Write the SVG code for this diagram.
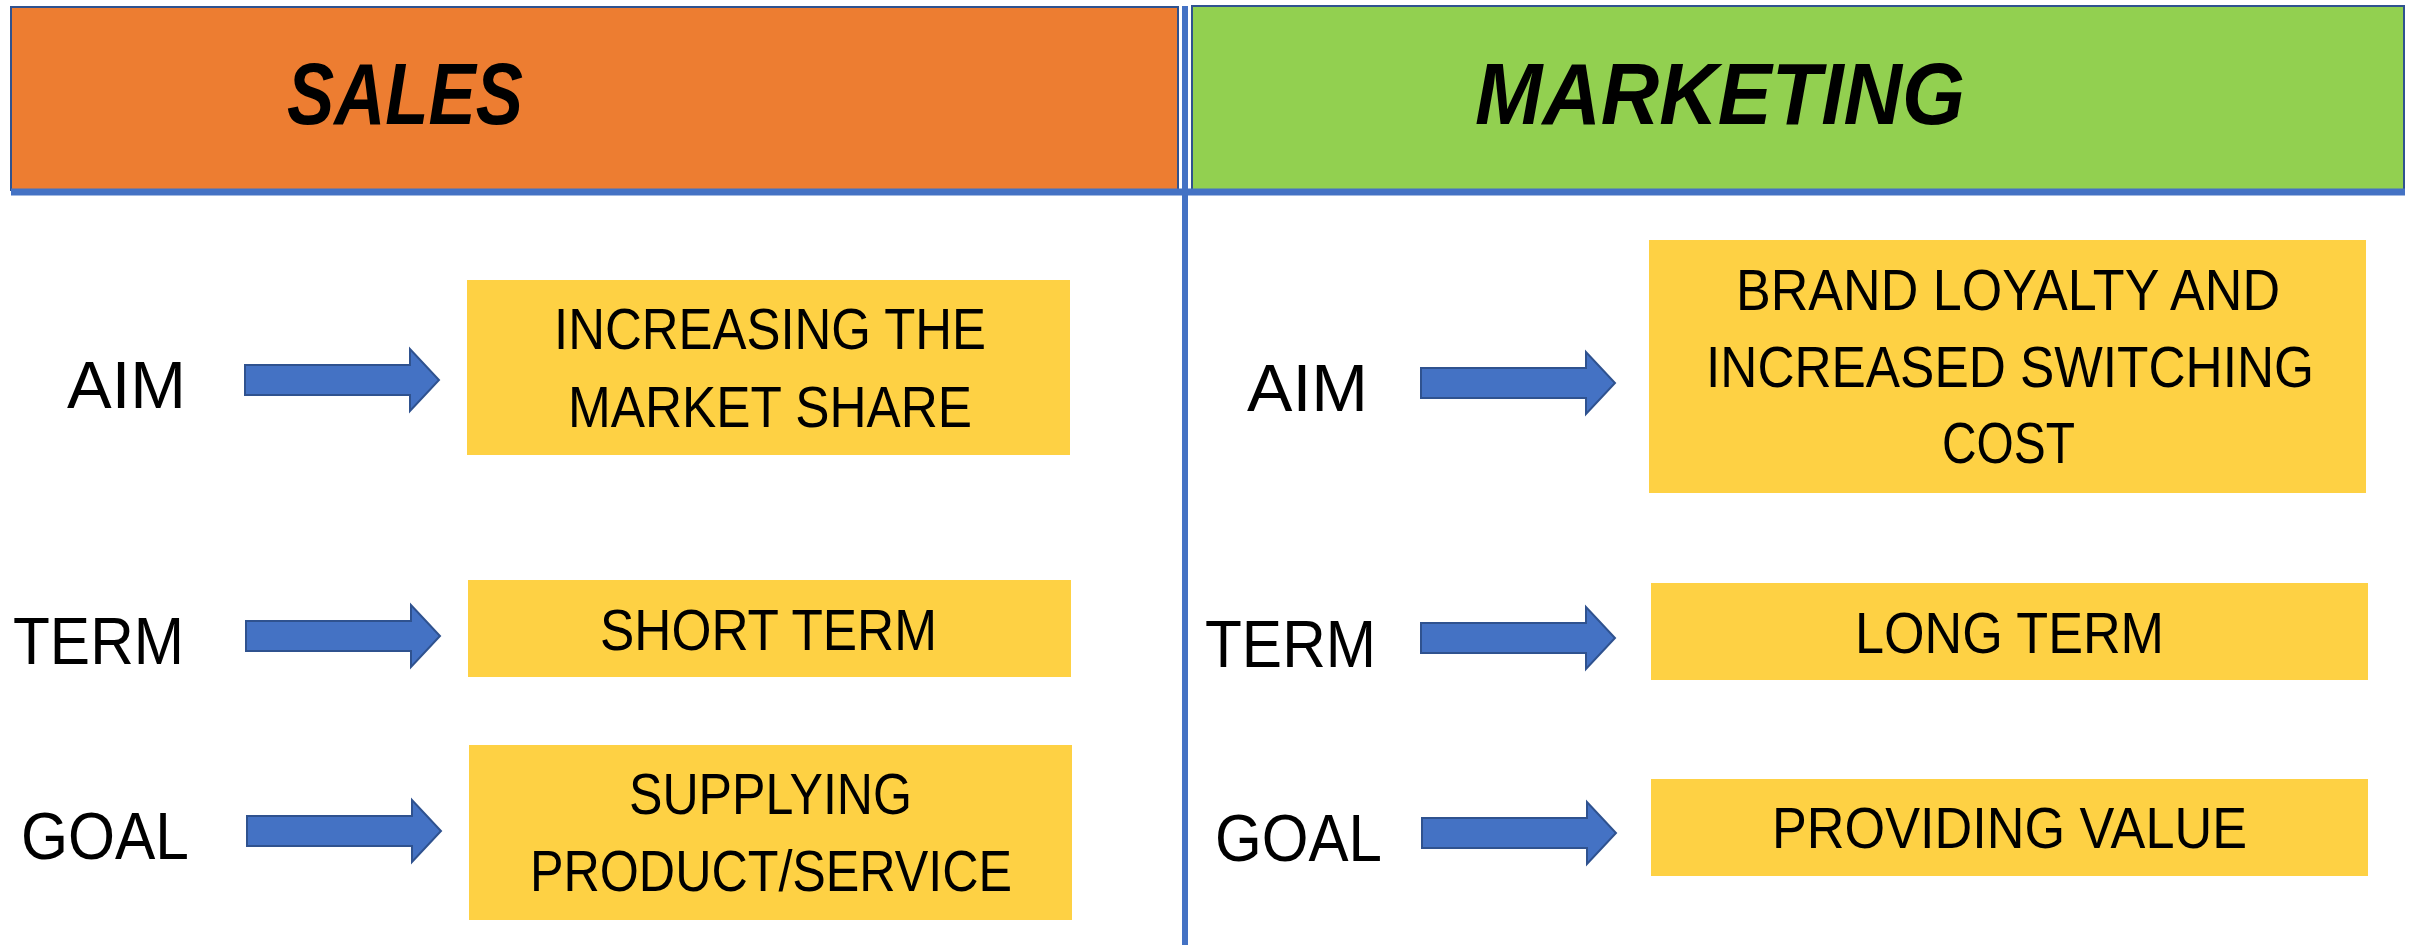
<svg xmlns="http://www.w3.org/2000/svg" xmlns:xlink="http://www.w3.org/1999/xlink" width="2417" height="945" viewBox="0 0 2417 945">
  <style>
    .hdr { stroke: #2F528F; stroke-width: 2; }
    .hdr-text { font-family: "Liberation Sans", Arial, sans-serif; font-weight: bold; font-style: italic; font-size: 87px; fill: #000; }
    .label { font-family: "Liberation Sans", Arial, sans-serif; font-size: 66px; fill: #000; }
    .box { fill: #FED144; }
    .box-text { font-family: "Liberation Sans", Arial, sans-serif; font-size: 57px; fill: #000; }
    .arrow { fill: #4472C4; stroke: #2F528F; stroke-width: 2; }
    .rule { stroke: #4472C4; fill: none; }
  </style>
  <defs>
    <!-- block arrow, anchored at the tail, vertically centred on y=0 -->
    <path id="blockArrow" class="arrow" d="M0,-15 H165 V-31 L194,0 L165,31 V15 H0 Z"/>
  </defs>

  <rect width="2417" height="945" fill="#FFFFFF"/>

  <!-- column headers -->
  <g id="header-sales">
    <rect class="hdr" x="11" y="7" width="1167" height="183" fill="#ED7D31"/>
    <text class="hdr-text" x="287" y="124" textLength="236" lengthAdjust="spacingAndGlyphs">SALES</text>
  </g>
  <g id="header-marketing">
    <rect class="hdr" x="1192" y="6" width="1212" height="184" fill="#92D050"/>
    <text class="hdr-text" x="1475" y="124" textLength="490" lengthAdjust="spacingAndGlyphs">MARKETING</text>
  </g>

  <!-- dividing rules and arrows -->
  <g id="connectors">
    <line class="rule" x1="11" y1="192" x2="2405" y2="192" stroke-width="7"/>
    <line class="rule" x1="1185" y1="6" x2="1185" y2="945" stroke-width="6"/>
    <use xlink:href="#blockArrow" x="245" y="380"/>
    <use xlink:href="#blockArrow" x="246" y="636"/>
    <use xlink:href="#blockArrow" x="247" y="831"/>
    <use xlink:href="#blockArrow" x="1421" y="383"/>
    <use xlink:href="#blockArrow" x="1421" y="638"/>
    <use xlink:href="#blockArrow" x="1422" y="833"/>
  </g>

  <!-- sales column -->
  <g id="sales-aim-label"><text class="label" x="67" y="408" textLength="119" lengthAdjust="spacingAndGlyphs">AIM</text></g>
  <g id="sales-aim">
    <rect class="box" x="467" y="280" width="603" height="175"/>
    <text class="box-text" x="554" y="349" textLength="432" lengthAdjust="spacingAndGlyphs">INCREASING THE</text>
    <text class="box-text" x="568" y="427" textLength="404" lengthAdjust="spacingAndGlyphs">MARKET SHARE</text>
  </g>
  <g id="sales-term-label"><text class="label" x="13" y="664" textLength="171" lengthAdjust="spacingAndGlyphs">TERM</text></g>
  <g id="sales-term">
    <rect class="box" x="468" y="580" width="603" height="97"/>
    <text class="box-text" x="600" y="650" textLength="337" lengthAdjust="spacingAndGlyphs">SHORT TERM</text>
  </g>
  <g id="sales-goal-label"><text class="label" x="21" y="859" textLength="168" lengthAdjust="spacingAndGlyphs">GOAL</text></g>
  <g id="sales-goal">
    <rect class="box" x="469" y="745" width="603" height="175"/>
    <text class="box-text" x="629" y="814" textLength="283" lengthAdjust="spacingAndGlyphs">SUPPLYING</text>
    <text class="box-text" x="530" y="891" textLength="482" lengthAdjust="spacingAndGlyphs">PRODUCT/SERVICE</text>
  </g>

  <!-- marketing column -->
  <g id="marketing-aim-label"><text class="label" x="1247" y="411" textLength="121" lengthAdjust="spacingAndGlyphs">AIM</text></g>
  <g id="marketing-aim">
    <rect class="box" x="1649" y="240" width="717" height="253"/>
    <text class="box-text" x="1736" y="310" textLength="544" lengthAdjust="spacingAndGlyphs">BRAND LOYALTY AND</text>
    <text class="box-text" x="1706" y="387" textLength="608" lengthAdjust="spacingAndGlyphs">INCREASED SWITCHING</text>
    <text class="box-text" x="1942" y="463" textLength="133" lengthAdjust="spacingAndGlyphs">COST</text>
  </g>
  <g id="marketing-term-label"><text class="label" x="1205" y="667" textLength="171" lengthAdjust="spacingAndGlyphs">TERM</text></g>
  <g id="marketing-term">
    <rect class="box" x="1651" y="583" width="717" height="97"/>
    <text class="box-text" x="1855" y="653" textLength="309" lengthAdjust="spacingAndGlyphs">LONG TERM</text>
  </g>
  <g id="marketing-goal-label"><text class="label" x="1215" y="861" textLength="167" lengthAdjust="spacingAndGlyphs">GOAL</text></g>
  <g id="marketing-goal">
    <rect class="box" x="1651" y="779" width="717" height="97"/>
    <text class="box-text" x="1772" y="848" textLength="475" lengthAdjust="spacingAndGlyphs">PROVIDING VALUE</text>
  </g>
</svg>
